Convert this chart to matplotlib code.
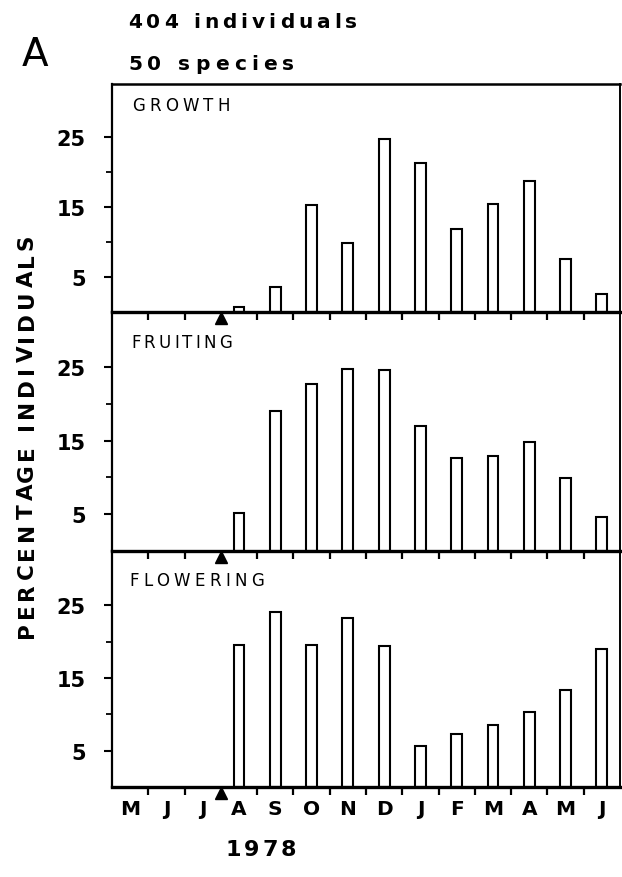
import matplotlib.pyplot as plt
from matplotlib.ticker import FixedLocator, NullFormatter, FixedFormatter

plt.rcParams['font.family'] = ['DejaVu Sans']

months = ["M", "J", "J", "A", "S", "O", "N", "D", "J", "F", "M", "A", "M", "J"]
bar_months = list(range(3, 14))  # Aug 1978 .. Jun 1979
growth = [0.7, 3.5, 15.2, 9.8, 24.7, 21.3, 11.9, 15.4, 18.7, 7.6, 2.5]
fruiting = [5.2, 19.0, 22.7, 24.8, 24.6, 17.0, 12.7, 12.9, 14.8, 9.9, 4.6]
flowering = [19.5, 24.1, 19.5, 23.3, 19.4, 5.6, 7.3, 8.5, 10.3, 13.4, 19.0]
panels = [("GROWTH", growth), ("FRUITING", fruiting), ("FLOWERING", flowering)]
start_marker = 3  # triangle between J and A

W, H = 622, 878
fig = plt.figure(figsize=(W / 100, H / 100), dpi=100)
renderer = fig.canvas.get_renderer()


def text_width(s, **kw):
    t = fig.text(0, 0, s, **kw)
    w = t.get_window_extent(renderer).width
    t.remove()
    return w


def tracked(s, start, end, pos, vertical=False, **kw):
    # letter-spaced text: one glyph per Text, natural advances plus an even extra gap,
    # stretched so the whole string runs from start to end (pixels)
    ref = text_width("H", **kw)
    offs = [0.0] + [text_width(s[:k] + "H", **kw) - ref for k in range(1, len(s))]
    gap = (abs(end - start) - text_width(s, **kw)) / (len(s) - 1)
    for k, ch in enumerate(s):
        if ch == " ":
            continue
        d = offs[k] + k * gap
        if vertical:
            # reads bottom to top, start is the lower end
            fig.text(pos / W, 1 - (start - d) / H, ch, rotation=90, ha="center",
                     va="bottom", **kw)
        else:
            fig.text((start + d) / W, 1 - pos / H, ch, ha="left", va="center", **kw)


left, right = 112, 620
edges = [85, 313, 552, 788]
label_pos = [(132, 230, 106), (131, 232, 343), (129, 264, 581)]

for i, (name, vals) in enumerate(panels):
    top, bot = edges[i], edges[i + 1]
    ax = fig.add_axes([left / W, 1 - bot / H, (right - left) / W, (bot - top) / H])
    ax.set_facecolor("none")
    centers = [m + 0.5 for m in bar_months]
    ax.bar(centers, vals, width=0.3, color="white", edgecolor="black", linewidth=1.5, zorder=2)
    ax.set_xlim(0, 14)
    ax.set_ylim(0, 32.5)

    ax.spines["left"].set_linewidth(1.6)
    ax.spines["right"].set_linewidth(1.4)
    ax.spines["bottom"].set_linewidth(2.4)
    ax.spines["top"].set_linewidth(1.8 if i == 0 else 0)
    ax.spines["bottom"].set_zorder(3)

    ax.yaxis.set_major_locator(FixedLocator([5, 15, 25]))
    ax.yaxis.set_minor_locator(FixedLocator([10, 20]))
    ax.tick_params(axis="y", which="major", direction="out", length=6, width=1.5,
                   labelsize=15, pad=13)
    ax.tick_params(axis="y", which="minor", direction="out", length=4, width=1.3)
    for t in ax.get_yticklabels():
        t.set_fontweight("bold")

    ax.xaxis.set_major_locator(FixedLocator([k for k in range(1, 14) if k != start_marker]))
    ax.xaxis.set_major_formatter(NullFormatter())
    ax.xaxis.set_minor_locator(FixedLocator([m + 0.5 for m in range(14)]))
    ax.tick_params(axis="x", which="major", direction="out", length=6, width=1.6)
    if i == 2:
        ax.xaxis.set_minor_formatter(FixedFormatter(months))
        ax.tick_params(axis="x", which="minor", length=0, labelsize=14.5, pad=9)
        for t in ax.get_xticklabels(minor=True):
            t.set_fontweight("bold")
    else:
        ax.xaxis.set_minor_formatter(NullFormatter())
        ax.tick_params(axis="x", which="minor", length=0)

    ax.plot([start_marker], [-0.85], marker="^", color="black", markersize=9,
            clip_on=False, zorder=5)
    x0, x1, yc = label_pos[i]
    tracked(name, x0, x1, yc, fontsize=12)

fig.text(22 / W, 1 - 55 / H, "A", fontsize=28, va="center", ha="left")
tracked("404 individuals", 128, 357, 22, fontsize=14.5, fontweight="bold")
tracked("50 species", 128, 294, 65, fontsize=14.5, fontweight="bold")
tracked("PERCENTAGE INDIVIDUALS", 638, 234, 27, vertical=True, fontsize=15.5, fontweight="bold")
tracked("1978", 226, 296, 850, fontsize=16, fontweight="bold")

fig.savefig("out.png", dpi=100, facecolor="white")
